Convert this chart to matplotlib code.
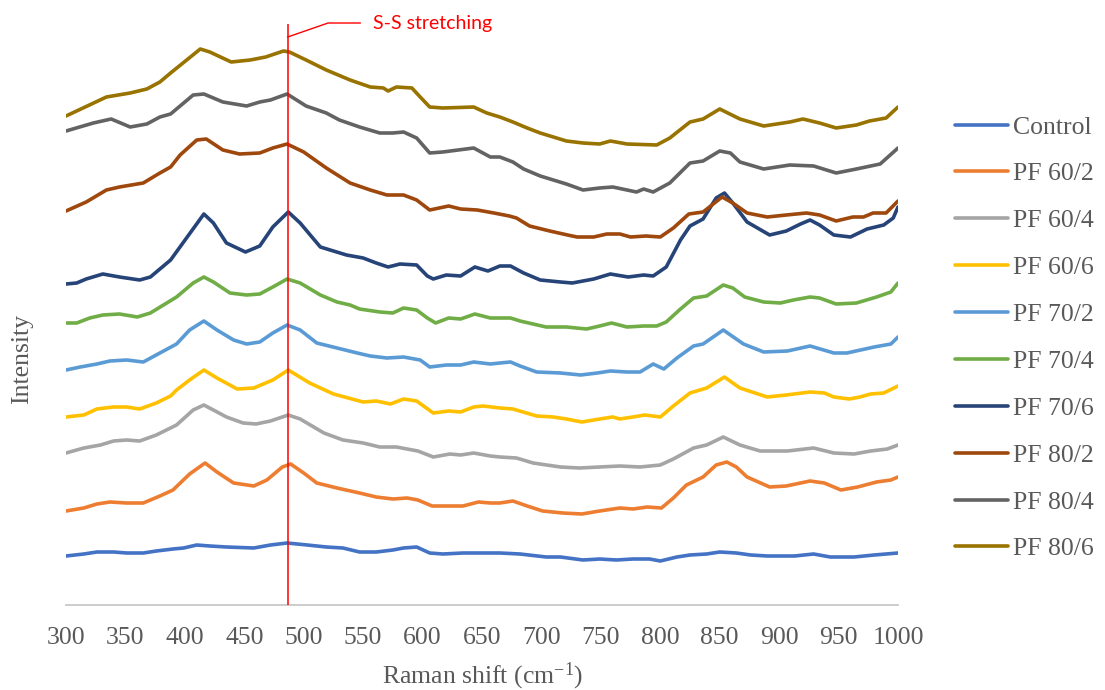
import matplotlib
matplotlib.use("Agg")
import matplotlib.pyplot as plt

# Raman spectra, intensities (arbitrary units, stacked offsets)
control_x = [300, 315, 326, 340, 351, 365, 376, 390, 399, 410, 421, 435, 458, 472, 486, 503, 519, 533, 547, 561,
             575, 584, 595, 606, 617, 634, 651, 665, 682, 704, 716, 735, 749, 763, 777, 791, 800, 814, 825, 839,
             850, 864, 876, 890, 913, 929, 943, 963, 980, 1000]
control_y = [49, 51, 53, 53, 52, 52, 54, 56, 57, 60, 59, 58, 57, 60, 62, 60, 58, 57, 53, 53,
             55, 57, 58, 52, 51, 52, 52, 52, 51, 48, 48, 45, 46, 45, 46, 46, 44, 48, 50, 51,
             53, 52, 50, 49, 49, 51, 48, 48, 50, 52]

pf60_2_x = [300, 315, 326, 337, 351, 365, 379, 390, 404, 417, 427, 441, 458, 469, 482, 489, 500, 511, 528, 547,
            561, 575, 587, 596, 608, 620, 634, 647, 657, 665, 676, 688, 701, 718, 734, 749, 766, 777, 789, 801,
            811, 822, 836, 847, 856, 864, 873, 892, 906, 926, 938, 952, 966, 982, 994, 1000]
pf60_2_y = [94, 97, 101, 103, 102, 102, 109, 115, 131, 142, 133, 122, 119, 125, 138, 141, 132, 122, 117, 112,
            108, 106, 107, 105, 99, 99, 99, 103, 102, 102, 104, 99, 94, 92, 91, 94, 97, 96, 98, 97,
            107, 120, 128, 140, 143, 138, 128, 118, 119, 124, 122, 115, 118, 123, 125, 128]

pf60_4_x = [300, 315, 329, 340, 351, 362, 376, 393, 407, 416, 424, 435, 449, 460, 472, 487, 497, 517, 533, 550,
            564, 578, 596, 609, 623, 632, 643, 657, 665, 679, 693, 716, 732, 749, 766, 783, 800, 811, 828, 839,
            853, 867, 884, 907, 929, 946, 963, 977, 991, 1000]
pf60_4_y = [152, 157, 160, 164, 165, 164, 170, 180, 195, 200, 195, 188, 182, 181, 184, 190, 186, 172, 165, 162,
            158, 158, 154, 148, 151, 150, 152, 149, 148, 147, 142, 138, 137, 138, 139, 138, 140, 146, 157, 160,
            168, 160, 154, 154, 157, 152, 151, 154, 156, 160]

pf60_6_x = [300, 315, 326, 340, 351, 362, 376, 388, 393, 404, 416, 427, 444, 458, 474, 487, 505, 525, 550, 561,
            573, 584, 595, 609, 622, 632, 643, 651, 665, 676, 696, 710, 721, 734, 749, 760, 766, 777, 787, 800,
            811, 825, 839, 850, 854, 867, 890, 906, 926, 938, 946, 959, 968, 977, 988, 1000]
pf60_6_y = [188, 190, 196, 198, 198, 196, 202, 209, 215, 225, 235, 227, 216, 217, 225, 235, 222, 211, 203, 204,
            201, 206, 204, 192, 194, 193, 198, 199, 197, 196, 189, 188, 186, 183, 186, 188, 186, 188, 190, 188,
            199, 212, 217, 225, 228, 217, 208, 210, 213, 212, 208, 206, 208, 211, 212, 219]

pf70_2_x = [300, 312, 326, 337, 351, 365, 379, 393, 404, 416, 427, 441, 452, 463, 474, 486, 497, 511, 528, 545,
            556, 570, 584, 598, 606, 620, 632, 643, 657, 665, 674, 682, 696, 716, 733, 747, 758, 772, 783, 794,
            803, 814, 828, 836, 853, 870, 887, 907, 926, 946, 957, 980, 994, 1000]
pf70_2_y = [235, 238, 241, 244, 245, 243, 252, 261, 275, 284, 275, 265, 261, 263, 272, 280, 275, 262, 257, 252,
            249, 247, 248, 245, 238, 240, 240, 243, 241, 242, 243, 239, 233, 232, 230, 232, 234, 233, 233, 241,
            236, 247, 259, 261, 275, 261, 253, 254, 259, 252, 252, 258, 261, 268]

pf70_4_x = [300, 309, 320, 331, 345, 360, 371, 382, 393, 407, 416, 424, 438, 452, 463, 474, 486, 497, 514, 528,
            539, 547, 564, 575, 584, 595, 604, 611, 622, 632, 644, 657, 665, 674, 682, 704, 721, 738, 749, 759,
            772, 786, 797, 805, 817, 828, 839, 853, 861, 871, 887, 901, 912, 926, 934, 948, 965, 982, 994, 1000]
pf70_4_y = [282, 282, 287, 290, 291, 288, 292, 300, 308, 322, 328, 323, 312, 310, 311, 318, 326, 322, 310, 303,
            300, 296, 293, 292, 297, 295, 287, 282, 287, 286, 291, 287, 287, 287, 284, 278, 278, 276, 279, 282,
            278, 279, 279, 283, 296, 307, 309, 320, 317, 308, 303, 302, 305, 308, 307, 301, 302, 308, 313, 322]

pf70_6_x = [300, 309, 317, 331, 345, 362, 371, 388, 402, 416, 424, 435, 451, 463, 474, 487, 497, 514, 525, 536,
            550, 561, 571, 581, 595, 604, 609, 620, 632, 644, 655, 665, 674, 685, 699, 716, 726, 744, 758, 773,
            786, 794, 805, 817, 825, 836, 847, 854, 861, 873, 892, 906, 918, 926, 934, 946, 960, 974, 988, 996, 1000]
pf70_6_y = [321, 322, 326, 331, 328, 325, 328, 345, 368, 391, 382, 362, 353, 359, 378, 393, 382, 358, 354, 350,
            347, 342, 338, 341, 340, 329, 326, 330, 329, 338, 334, 339, 339, 332, 325, 323, 322, 326, 331, 328,
            330, 329, 338, 365, 379, 386, 407, 412, 402, 383, 370, 374, 381, 385, 380, 370, 368, 376, 380, 387, 398]

pf80_2_x = [300, 317, 334, 345, 365, 379, 388, 396, 410, 418, 432, 446, 463, 474, 486, 500, 519, 539, 556, 570,
            584, 595, 606, 622, 632, 646, 660, 673, 679, 690, 707, 722, 730, 744, 755, 766, 775, 788, 800, 811,
            824, 836, 852, 861, 873, 890, 906, 923, 934, 948, 962, 971, 979, 990, 1000]
pf80_2_y = [394, 403, 415, 418, 422, 432, 438, 450, 465, 466, 455, 451, 452, 457, 461, 453, 437, 422, 415, 410,
            410, 405, 395, 399, 396, 395, 392, 389, 387, 379, 374, 370, 368, 368, 371, 371, 368, 369, 368, 377,
            391, 393, 408, 402, 392, 388, 390, 392, 390, 384, 388, 388, 392, 392, 404]

pf80_4_x = [300, 323, 338, 354, 368, 379, 388, 407, 416, 432, 452, 463, 472, 486, 502, 519, 530, 547, 564, 575,
            584, 595, 606, 617, 643, 657, 665, 676, 685, 699, 721, 735, 749, 760, 772, 780, 786, 794, 808, 825,
            836, 850, 859, 867, 887, 909, 929, 948, 965, 985, 1000]
pf80_4_y = [474, 482, 486, 478, 481, 488, 491, 510, 511, 503, 499, 503, 505, 511, 499, 492, 485, 478, 472, 472,
            473, 467, 452, 453, 457, 448, 448, 443, 436, 429, 421, 415, 417, 418, 415, 413, 416, 413, 422, 442,
            444, 454, 452, 443, 436, 440, 439, 432, 436, 441, 457]

pf80_6_x = [300, 334, 354, 368, 379, 388, 413, 421, 439, 455, 468, 483, 488, 502, 519, 539, 556, 567, 571, 578,
            591, 598, 606, 617, 643, 654, 665, 676, 688, 699, 721, 735, 749, 758, 772, 797, 808, 825, 836, 850,
            867, 887, 909, 920, 934, 948, 965, 976, 990, 1000]
pf80_6_y = [489, 508, 512, 516, 523, 532, 556, 553, 543, 545, 548, 554, 553, 545, 535, 525, 518, 517, 514, 518,
            517, 508, 498, 497, 498, 492, 488, 483, 477, 472, 464, 462, 461, 464, 461, 460, 467, 483, 486, 496,
            486, 479, 483, 486, 482, 477, 480, 484, 487, 498]

labels = ["Control", "PF 60/2", "PF 60/4", "PF 60/6", "PF 70/2",
          "PF 70/4", "PF 70/6", "PF 80/2", "PF 80/4", "PF 80/6"]
colors = ["#4472C4", "#ED7D31", "#A5A5A5", "#FFC000", "#5B9BD5",
          "#70AD47", "#264478", "#9E480E", "#636363", "#997300"]
xs = [control_x, pf60_2_x, pf60_4_x, pf60_6_x, pf70_2_x, pf70_4_x, pf70_6_x, pf80_2_x, pf80_4_x, pf80_6_x]
ys = [control_y, pf60_2_y, pf60_4_y, pf60_6_y, pf70_2_y, pf70_4_y, pf70_6_y, pf80_2_y, pf80_4_y, pf80_6_y]

x_ticks = list(range(300, 1001, 50))
ss_shift = 486.5          # S-S stretching marker
ss_label = "S-S stretching"

plt.rcParams['font.family'] = ['Liberation Serif', 'DejaVu Serif']
plt.rcParams['mathtext.fontset'] = 'custom'
plt.rcParams['mathtext.rm'] = 'Liberation Serif'
plt.rcParams['mathtext.it'] = 'Liberation Serif:italic'

text_color = "#595959"

fig = plt.figure(figsize=(11.05, 6.9), dpi=100)
ax = fig.add_axes([66 / 1105, 85 / 690, 832 / 1105, 585 / 690])

for x, y, c, lab in zip(xs, ys, colors, labels):
    ax.plot(x, y, color=c, lw=2.6, label=lab, solid_joinstyle='round', solid_capstyle='round')

ax.set_xlim(300, 1000)
ax.set_ylim(0, 585)
ax.set_xticks(x_ticks)
ax.set_yticks([])
for s in ["top", "right", "left"]:
    ax.spines[s].set_visible(False)
ax.spines["bottom"].set_color("#C8C8C8")
ax.spines["bottom"].set_linewidth(1.3)
ax.tick_params(axis="x", length=0, pad=16, labelsize=18.5, labelcolor=text_color)

ax.set_xlabel("Raman shift (cm$^{-1}$)", fontsize=18.5, color=text_color, va="center")
ax.xaxis.set_label_coords(0.5, -0.1214)
ax.set_ylabel("Intensity", fontsize=18.5, color=text_color, va="center")
ax.yaxis.set_label_coords(-0.053, 0.42)

# S-S stretching marker and callout
ax.vlines(ss_shift, 0, 581, color="red", lw=1.1, zorder=5)
ax.plot([ss_shift, ss_shift + 34, ss_shift + 61], [568, 582, 582], color="red", lw=1.0,
        clip_on=False, zorder=5)
ax.text(ss_shift + 72, 582, ss_label, color="red", fontsize=14, family=["Lato", "DejaVu Sans"],
        va="center", ha="left", clip_on=False)

ax.legend(loc="center left", bbox_to_anchor=(955 / 1105, 1 - 338 / 690), bbox_transform=fig.transFigure,
          frameon=False, fontsize=18.5, labelcolor=text_color, handlelength=2.05, handletextpad=0.2,
          labelspacing=0.93, borderpad=0, borderaxespad=0)

fig.savefig("out.png", dpi=100)
